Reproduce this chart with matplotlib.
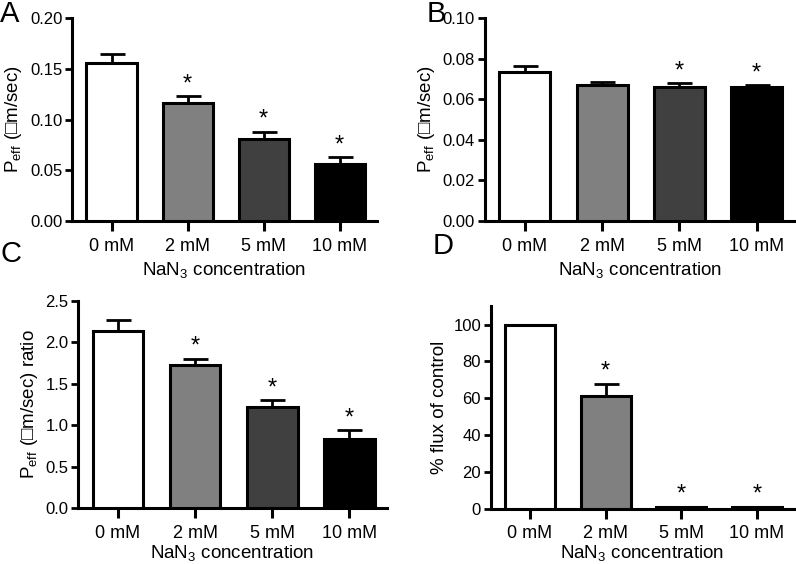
import numpy as np
import matplotlib.pyplot as plt

plt.rcParams['font.family'] = ['Liberation Sans', 'DejaVu Sans']

categories = ['0 mM', '2 mM', '5 mM', '10 mM']
colors = ['white', '#808080', '#404040', 'black']

# panel A: Peff
a_mean = [0.156, 0.116, 0.081, 0.056]
a_err = [0.009, 0.007, 0.007, 0.007]
a_star = [False, True, True, True]

# panel B: Peff
b_mean = [0.0735, 0.067, 0.066, 0.066]
b_err = [0.003, 0.0015, 0.002, 0.001]
b_star = [False, False, True, True]

# panel C: Peff ratio
c_mean = [2.13, 1.73, 1.22, 0.84]
c_err = [0.14, 0.07, 0.08, 0.10]
c_star = [False, True, True, True]

# panel D: % flux of control
d_mean = [100, 61, 1, 1]
d_err = [0, 6.5, 0, 0]
d_star = [False, True, True, True]

peff_label = 'P$_{\\mathregular{eff}}$ (\u25a1m/sec)'
xlab = 'NaN$_{\\mathregular{3}}$ concentration'

fig = plt.figure(figsize=(7.96, 5.64), dpi=100)


def panel(rect, mean, err, star, ylim, yticks, fmt, ylabel, letter, lpos, star_off, xpad):
    ax = fig.add_axes(rect)
    x = np.arange(len(categories))
    ax.bar(x, mean, width=0.66, color=colors, edgecolor='black', linewidth=2.2, zorder=3)
    e = np.array(err)
    ax.errorbar(x, mean, yerr=[np.zeros_like(e), e], fmt='none', ecolor='black',
                elinewidth=2, capsize=9, capthick=2, zorder=2)
    for xi, m, er, s in zip(x, mean, err, star):
        if s:
            ax.text(xi, m + er + star_off, '*', ha='center', va='bottom', fontsize=17)
    ax.set_xlim(-0.52, 3.49)
    ax.set_ylim(*ylim)
    ax.set_yticks(yticks)
    ax.set_yticklabels([fmt.format(v) for v in yticks])
    ax.set_xticks(x)
    ax.set_xticklabels(categories)
    ax.spines['top'].set_visible(False)
    ax.spines['right'].set_visible(False)
    ax.spines['left'].set_linewidth(2.2)
    ax.spines['bottom'].set_linewidth(2.2)
    ax.tick_params(axis='y', length=5, width=2, labelsize=12, pad=2)
    ax.tick_params(axis='x', length=7, width=2.2, labelsize=13, pad=5)
    ax.set_xlabel(xlab, fontsize=13.5, labelpad=xpad)
    ax.set_ylabel(ylabel, fontsize=13.5, labelpad=4)
    fig.text(lpos[0], lpos[1], letter, fontsize=21, ha='left', va='top')
    return ax


panel([0.0905, 0.608, 0.383, 0.36], a_mean, a_err, a_star, (0, 0.2),
      [0, 0.05, 0.10, 0.15, 0.20], '{:.2f}', peff_label, 'A', (0.0, 1.0), 0.001, 4)
panel([0.609, 0.608, 0.389, 0.36], b_mean, b_err, b_star, (0, 0.1),
      [0, 0.02, 0.04, 0.06, 0.08, 0.10], '{:.2f}', peff_label, 'B', (0.536, 1.0), 0.0004, 4)
panel([0.098, 0.0988, 0.388, 0.368], c_mean, c_err, c_star, (0, 2.5),
      [0, 0.5, 1.0, 1.5, 2.0, 2.5], '{:.1f}', peff_label + ' ratio', 'C', (0.0, 0.575), 0.01, 1)
panel([0.6165, 0.098, 0.381, 0.359], d_mean, d_err, d_star, (0, 110),
      [0, 20, 40, 60, 80, 100], '{:.0f}', '% flux of control', 'D', (0.543, 0.588), 1.0, 1)

fig.savefig('out.png', dpi=100, facecolor='white')
